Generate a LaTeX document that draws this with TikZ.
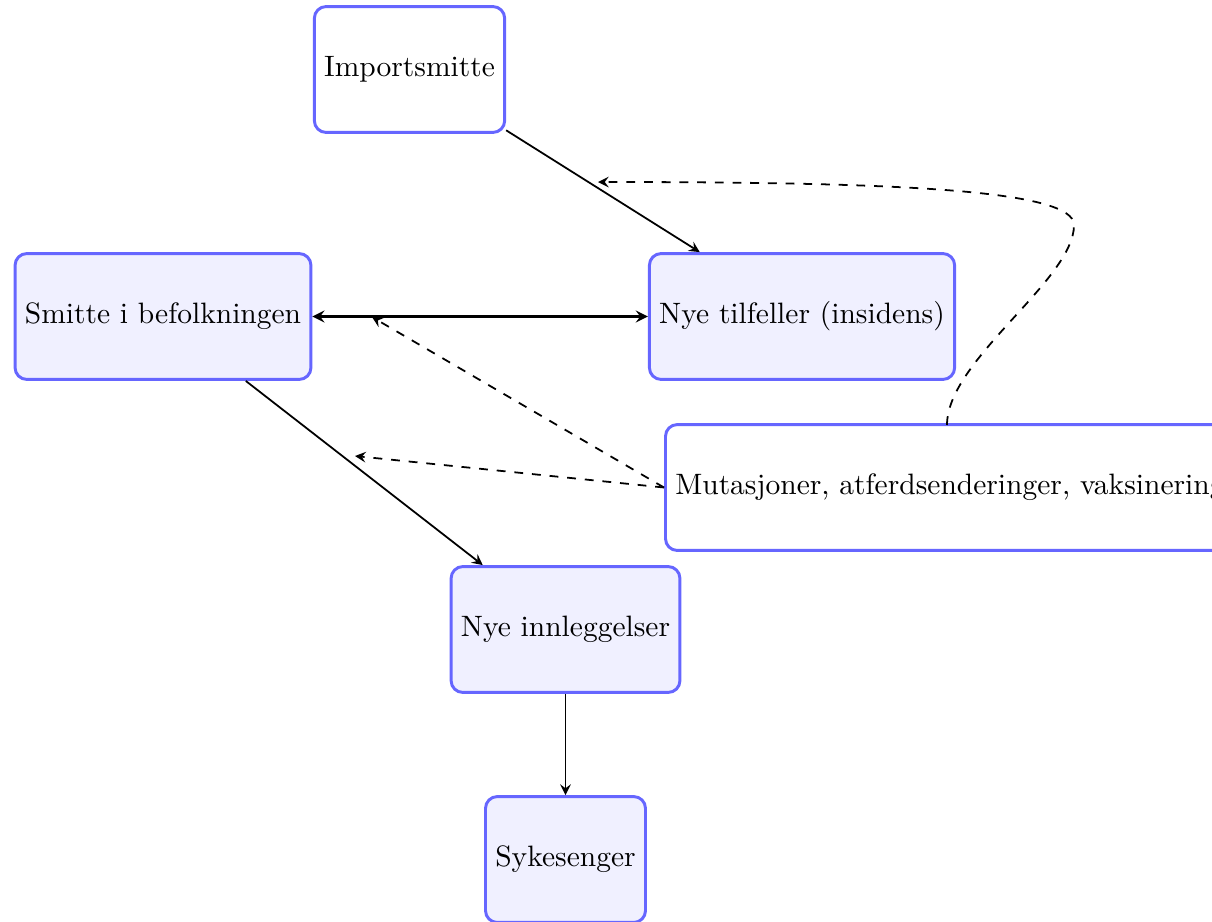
\documentclass[tikz,border=0pt]{standalone}
\usetikzlibrary{arrows}
\begin{document}
\begin{tikzpicture}[x=0.33898pt,y=-0.33898pt,
  box/.style={draw=blue!60, line width=1pt, rounded corners=4pt, minimum height=1.5cm, inner sep=3.33pt, fill=blue!6},
  wbox/.style={box, fill=white},
  conn/.style={-stealth, semithick},
  dconn/.style={-stealth, semithick, dashed}]
\clip (0,0) rectangle (1212,921);
\useasboundingbox (0,0) rectangle (1212,921);
\node[wbox] (imp) at (409.5,69.5) {Importsmitte};
\node[box] (smitte) at (163,316.5) {Smitte i befolkningen};
\node[box] (nye) at (802,316.5) {Nye tilfeller (insidens)};
\node[wbox, anchor=west] (mut) at (664,487.5) {Mutasjoner, atferdsenderinger, vaksinering};
\node[box] (innl) at (565.5,629.5) {Nye innleggelser};
\node[box] (syk) at (565.5,859.5) {Sykesenger};
\coordinate (c1) at (372,317);
\coordinate (c2) at (355,456);
\coordinate (c3) at (598,182);
\coordinate (c4) at (1074,225);
\coordinate (c5) at (947,425);
\draw[conn] (imp) -- (nye);
\draw[stealth-stealth, thick] (smitte) -- (nye);
\draw[conn] (smitte) -- (innl);
\draw[conn] (innl) -- (syk);
\draw[dconn] (mut.west) -- (c1);
\draw[dconn] (mut.west) -- (c2);
\draw[dconn] (c5) .. controls (947,360) and (1074,280) .. (c4)
  .. controls (1074,190) and (900,182) .. (c3);
\end{tikzpicture}
\end{document}
